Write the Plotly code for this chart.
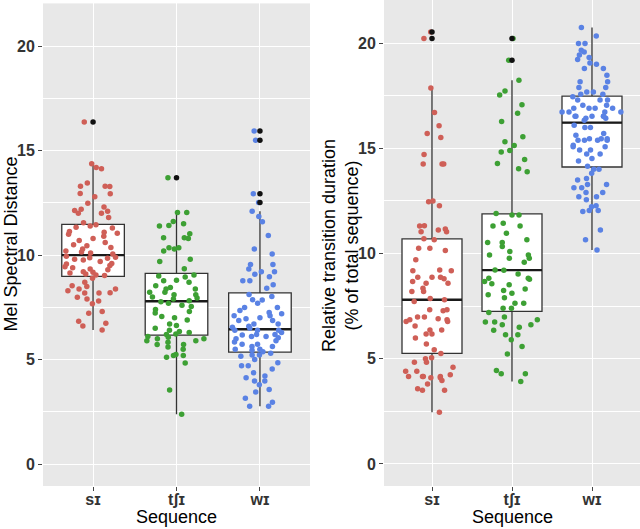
import numpy as np
import plotly.graph_objects as go

# ---------------- data ----------------
categories = ["sɪ", "tʃɪ", "wɪ"]

mel_si = [16.37, 14.37, 14.2, 14.13, 13.45, 13.3, 13.3, 13.29, 12.95, 12.94, 12.8, 12.49, 12.3, 12.2, 12.14, 12.1, 12.0, 12.0, 11.8, 11.55,
          11.45, 11.4, 11.34, 11.3, 11.13, 11.1, 11.05, 11.0, 10.9, 10.8, 10.7, 10.6, 10.5, 10.45, 10.36, 10.3, 10.2, 10.15, 10.1, 10.05,
          9.95, 9.9, 9.88, 9.85, 9.8, 9.77, 9.7, 9.6, 9.58, 9.5, 9.45, 9.4, 9.34, 9.3, 9.2, 9.18, 9.15, 9.1, 9.05, 9.02,
          8.89, 8.7, 8.54, 8.5, 8.38, 8.38, 8.3, 8.19, 8.19, 8.2, 7.98, 7.9, 7.8, 7.67, 7.22, 7.3, 6.83, 6.74, 6.61, 6.42]
mel_tshi = [13.7, 12.04, 12.04, 11.61, 11.5, 11.42, 11.4, 11.02, 10.83, 10.83, 10.8, 10.35, 10.35, 10.3, 10.2, 9.8, 9.7, 9.35,
            9.05, 9.0, 8.95, 8.8, 8.78, 8.7, 8.54, 8.45, 8.38, 8.38, 8.22, 8.22, 8.1, 8.1, 8.0, 7.95, 7.9, 7.82,
            7.77, 7.7, 7.6, 7.54, 7.4, 7.3, 7.23, 7.06, 7.0, 6.9, 6.7, 6.63, 6.5, 6.4, 6.35, 6.3, 6.23, 6.2,
            6.1, 6.07, 6.0, 6.0, 5.9, 5.9, 5.83, 5.72, 5.72, 5.6, 5.5, 5.24, 5.2, 5.2, 5.11, 4.84, 3.54, 2.39]
mel_wi = [15.94, 15.5, 12.94, 12.52, 12.1, 11.85, 11.6, 10.94, 10.3, 10.06, 9.55, 9.55, 9.34, 9.21, 9.21, 9.08, 8.97, 8.78, 8.78, 8.58, 8.41,
          8.12, 8.02, 7.87, 7.85, 7.7, 7.5, 7.5, 7.35, 7.26, 7.2, 7.1, 7.1, 7.0, 6.95, 6.87, 6.87, 6.7, 6.7, 6.6, 6.55, 6.5,
          6.4, 6.4, 6.4, 6.3, 6.2, 6.2, 6.18, 6.1, 6.1, 6.05, 6.0, 5.9, 5.84, 5.73, 5.73, 5.63, 5.63, 5.5, 5.5, 5.45, 5.38,
          5.3, 5.22, 5.22, 5.16, 5.0, 4.85, 4.7, 4.7, 4.55, 4.37, 4.21, 4.13, 3.97, 3.97, 3.8, 3.57, 3.45, 3.15, 2.96, 2.77, 2.77]

dur_si = [20.53, 20.22, 17.87, 16.7, 16.07, 15.71, 15.52, 14.71, 14.25, 14.25, 14.25, 12.46, 12.5, 12.27, 11.32, 11.17, 11.31, 11.04, 11.04, 11.12,
          10.7, 10.65, 10.25, 10.25, 10.14, 9.7, 9.22, 9.18, 9.18, 8.87, 8.87, 8.87, 8.8, 8.67, 8.59, 8.59, 8.35, 8.19, 8.19, 7.86, 7.8,
          7.72, 7.33, 7.33, 7.28, 6.98, 6.98, 6.9, 6.85, 6.85, 6.77, 6.77, 6.56, 6.37, 6.37, 6.18, 6.18, 5.98, 5.7, 5.43, 5.25,
          5.05, 5.0, 4.83, 4.83, 4.6, 4.4, 4.4, 4.24, 4.16, 4.16, 4.16, 4.16, 4.09, 4.09, 3.97, 3.8, 3.57, 3.5, 3.5, 2.45]
dur_tshi = [20.22, 19.19, 18.24, 17.73, 17.53, 17.07, 16.67, 16.28, 15.55, 15.31, 15.14, 14.9, 14.83, 14.47, 14.28, 14.03, 13.89,
            11.9, 11.83, 11.83, 11.44, 11.31, 11.31, 10.96, 10.65, 10.52, 10.52, 10.33, 10.1, 9.93, 9.93, 9.77, 9.77, 9.59, 9.22,
            9.2, 9.03, 8.82, 8.82, 8.78, 8.67, 8.56, 8.51, 8.31, 8.24, 8.11, 8.04, 7.9, 7.64, 7.64, 7.4, 7.4,
            7.2, 6.98, 6.85, 6.74, 6.74, 6.61, 6.61, 6.49, 6.35, 6.14, 6.14, 5.9, 5.58, 5.23, 4.44, 4.28, 4.28, 3.92]
dur_wi = [20.74, 20.34, 19.98, 19.98, 19.66, 19.58, 19.43, 19.32, 19.22, 19.06, 19.0, 18.8, 18.8, 18.47, 18.16, 18.16, 17.89, 17.89, 17.68, 17.68, 17.57, 17.57,
          17.45, 17.3, 17.3, 17.3, 17.05, 17.05, 16.9, 16.9, 16.9, 16.9, 16.73, 16.73, 16.73, 16.73, 16.53, 16.53, 16.53, 16.53, 16.53, 16.43, 16.43, 16.34,
          16.1, 15.99, 15.99, 15.7, 15.62, 15.46, 15.46, 15.46, 15.38, 15.38, 15.38, 15.38, 15.15, 15.07, 15.07, 14.92, 14.92, 14.73, 14.73, 14.52, 14.4, 14.15,
          14.0, 14.0, 13.81, 13.57, 13.5, 13.28, 13.28, 13.13, 13.13, 12.9, 12.9, 12.7, 12.7, 12.55, 12.27, 12.22, 12.04, 12.04, 12.0, 11.12, 10.65, 10.17]

panel_left = [mel_si, mel_tshi, mel_wi]
panel_right = [dur_si, dur_tshi, dur_wi]

y_title_left = "Mel Spectral Distance"
y_title_right = "Relative transition duration<br>(% of total sequence)"
x_title = "Sequence"
y_ticks = [0, 5, 10, 15, 20]

# ---------------- style ----------------
colors = ["#CF5F57", "#3DA034", "#5A82E4"]
FONT = "Liberation Sans, Arial, sans-serif"
BG = "#E8E8E8"


def box_stats(vals):
    v = np.asarray(vals, dtype=float)
    q1, med, q3 = np.percentile(v, [25, 50, 75])
    iqr = q3 - q1
    lo_lim, hi_lim = q1 - 1.5 * iqr, q3 + 1.5 * iqr
    inside = v[(v >= lo_lim) & (v <= hi_lim)]
    outl = v[(v < lo_lim) | (v > hi_lim)]
    return q1, med, q3, inside.min(), inside.max(), outl


fig = go.Figure()


def add_panel(groups, xa, ya):
    for cat, vals, col in zip(categories, groups, colors):
        q1, med, q3, lf, uf, outl = box_stats(vals)
        # box + whiskers
        fig.add_trace(go.Box(
            x=[cat], q1=[q1], median=[med], q3=[q3], lowerfence=[lf], upperfence=[uf],
            boxpoints=False, fillcolor="white", line=dict(color="#333333", width=1.3),
            whiskerwidth=0, width=0.75, xaxis=xa, yaxis=ya, showlegend=False, hoverinfo="skip"))
        # thick median
        fig.add_trace(go.Box(
            x=[cat], q1=[med], median=[med], q3=[med], lowerfence=[med], upperfence=[med],
            boxpoints=False, fillcolor="rgba(0,0,0,0)", line=dict(color="#1a1a1a", width=2.4),
            whiskerwidth=0, width=0.75, xaxis=xa, yaxis=ya, showlegend=False, hoverinfo="skip"))
        # outliers (black, at centre)
        if len(outl):
            fig.add_trace(go.Scatter(
                x=[cat] * len(outl), y=list(outl), mode="markers",
                marker=dict(color="#111111", size=5.5), xaxis=xa, yaxis=ya,
                showlegend=False, hoverinfo="skip"))
        # jittered points
        fig.add_trace(go.Box(
            x=[cat] * len(vals), y=vals, boxpoints="all", jitter=1, pointpos=0,
            fillcolor="rgba(0,0,0,0)", line=dict(color="rgba(0,0,0,0)", width=0),
            marker=dict(color=col, size=5.5), width=0.8,
            xaxis=xa, yaxis=ya, showlegend=False, hoverinfo="skip"))


add_panel(panel_left, "x", "y")
add_panel(panel_right, "x2", "y2")

PH = 486.0
axis_common_x = dict(
    type="category", categoryorder="array", categoryarray=categories,
    range=[-0.6, 2.6], showgrid=True, gridcolor="white", gridwidth=1.1,
    ticks="outside", ticklen=4, tickcolor="#444444", tickwidth=1,
    ticklabelstandoff=-5,
    tickfont=dict(family=FONT, size=16, color="#333333", weight="bold"),
    zeroline=False, showline=False, automargin=False, fixedrange=True)
axis_common_y = dict(
    range=[-1.05, 22.05], tickmode="array", tickvals=y_ticks, ticktext=[str(t) for t in y_ticks],
    showgrid=True, gridcolor="white", gridwidth=1.1,
    minor=dict(tickmode="array", tickvals=[2.5, 7.5, 12.5, 17.5], showgrid=True,
               gridcolor="white", gridwidth=0.5, ticks=""),
    ticks="outside", ticklen=4, tickcolor="#444444", tickwidth=1,
    tickfont=dict(family=FONT, size=16, color="#333333", weight="bold"),
    zeroline=False, showline=False, automargin=False, fixedrange=True)

fig.update_layout(
    width=640, height=529,
    margin=dict(l=0, r=0, t=0, b=43, pad=0),
    paper_bgcolor="white", plot_bgcolor=BG,
    boxmode="overlay",
    xaxis=dict(domain=[43 / 640, 310 / 640], anchor="y", **axis_common_x),
    yaxis=dict(domain=[0, 1 - 3.4 / PH], anchor="x", **axis_common_y),
    xaxis2=dict(domain=[384 / 640, 1.0], anchor="y2", **axis_common_x),
    yaxis2=dict(domain=[0, 1.0], anchor="x2", **axis_common_y),
    font=dict(family=FONT, color="black"),
)

fig.add_annotation(text=y_title_left, xref="paper", yref="paper", x=10 / 640, y=(PH - 244.5) / PH,
                   textangle=-90, showarrow=False, xanchor="center", yanchor="middle",
                   font=dict(family=FONT, size=18, color="black"))
fig.add_annotation(text=y_title_right, xref="paper", yref="paper", x=340 / 640, y=(PH - 246) / PH,
                   textangle=-90, showarrow=False, xanchor="center", yanchor="middle",
                   font=dict(family=FONT, size=18, color="black"))
fig.add_annotation(text=x_title, xref="paper", yref="paper", x=176.5 / 640, y=(PH - 516.5) / PH,
                   showarrow=False, xanchor="center", yanchor="middle",
                   font=dict(family=FONT, size=18, color="black"))
fig.add_annotation(text=x_title, xref="paper", yref="paper", x=512 / 640, y=(PH - 516.5) / PH,
                   showarrow=False, xanchor="center", yanchor="middle",
                   font=dict(family=FONT, size=18, color="black"))

fig.write_html("out.html", config={"displayModeBar": False},
               post_script="document.body.style.margin='0';document.body.style.padding='0';")
